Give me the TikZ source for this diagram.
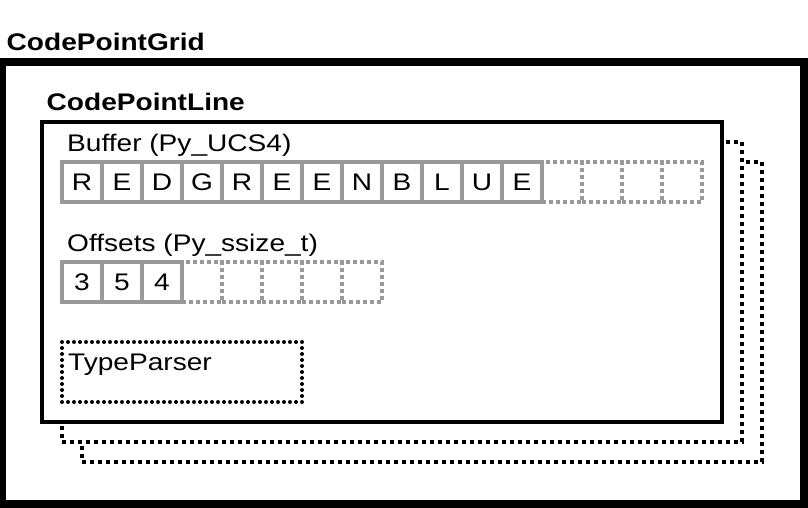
\documentclass[tikz,border=0pt]{standalone}
\usepackage{fontspec}
\setmainfont{Liberation Sans}[FakeStretch=1.17]
\definecolor{cellgray}{RGB}{153,153,153}
\tikzset{
  cell/.style={draw=cellgray, line width=4.5pt, minimum width=40pt, minimum height=40pt, inner sep=0pt, font=\fontsize{24}{28}\selectfont},
  freecell/.style={cell, dash pattern=on 4pt off 3pt},
  boxtitle/.style={anchor=base west, inner sep=0pt, font=\fontsize{24}{28}\selectfont\bfseries},
  fieldname/.style={anchor=base west, inner sep=0pt, font=\fontsize{24}{28}\selectfont},
  linebox/.style={draw=black, fill=white, line width=4pt, minimum width=680pt, minimum height=300pt, inner sep=0pt},
  moreline/.style={linebox, dash pattern=on 4pt off 4pt}
}

\begin{document}
\begin{tikzpicture}[x=1pt, y=-1pt]
  \useasboundingbox (0,0) rectangle (808,508);
  \node[draw=black, fill=white, line width=8pt, minimum width=802pt, minimum height=442pt, inner sep=0pt] (GRID) at (403,283) {};
  \node[boxtitle] (GRIDNAME) at (6.5,51) {CodePointGrid};

  \node[moreline] (LINE3) at (422,312) {};
  \node[moreline] (LINE2) at (402,292) {};
  \node[linebox] (LINE1) at (382,272) {};
  \node[boxtitle] (LINENAME) at (46.5,111) {CodePointLine};

  \node[fieldname] (BUFNAME) at (67,151.5) {Buffer (Py\_UCS4)};
  \node[freecell] (B13) at (562,182) {};
  \node[freecell] (B14) at (602,182) {};
  \node[freecell] (B15) at (642,182) {};
  \node[freecell] (B16) at (682,182) {};
  \node[cell] (B1) at (82,182) {R};
  \node[cell] (B2) at (122,182) {E};
  \node[cell] (B3) at (162,182) {D};
  \node[cell] (B4) at (202,182) {G};
  \node[cell] (B5) at (242,182) {R};
  \node[cell] (B6) at (282,182) {E};
  \node[cell] (B7) at (322,182) {E};
  \node[cell] (B8) at (362,182) {N};
  \node[cell] (B9) at (402,182) {B};
  \node[cell] (B10) at (442,182) {L};
  \node[cell] (B11) at (482,182) {U};
  \node[cell] (B12) at (522,182) {E};

  \node[fieldname] (OFFNAME) at (67,251) {Offsets (Py\_ssize\_t)};
  \node[freecell] (O4) at (202,282) {};
  \node[freecell] (O5) at (242,282) {};
  \node[freecell] (O6) at (282,282) {};
  \node[freecell] (O7) at (322,282) {};
  \node[freecell] (O8) at (362,282) {};
  \node[cell] (O1) at (82,282) {3};
  \node[cell] (O2) at (122,282) {5};
  \node[cell] (O3) at (162,282) {4};

  \node[draw=black, line width=4pt, dash pattern=on 0pt off 6pt, line cap=round, minimum width=240pt, minimum height=60pt, inner sep=0pt] (PARSER) at (182,372) {};
  \node[fieldname] (PARSERNAME) at (68,370) {TypeParser};
\end{tikzpicture}
\end{document}
